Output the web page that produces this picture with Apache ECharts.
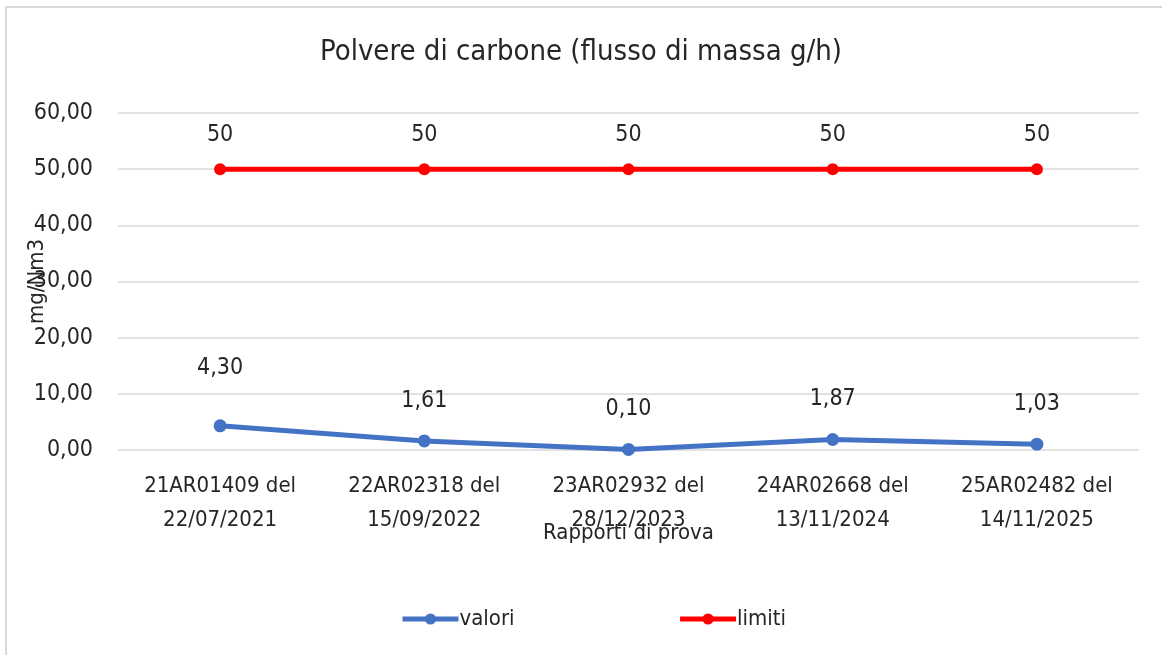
<!DOCTYPE html>
<html>
<head>
<meta charset="utf-8">
<script src="https://cdn.jsdelivr.net/npm/echarts@6/dist/echarts.min.js"></script>
<style>
  html, body { margin: 0; padding: 0; background: #fff; }
  #chart { width: 1162px; height: 655px; }
</style>
</head>
<body>
<div id="chart"></div>
<script>
var categories = [
  '21AR01409 del\n22/07/2021',
  '22AR02318 del\n15/09/2022',
  '23AR02932 del\n28/12/2023',
  '24AR02668 del\n13/11/2024',
  '25AR02482 del\n14/11/2025'
];
var valori = [4.30, 1.61, 0.10, 1.87, 1.03];
var limiti = [50, 50, 50, 50, 50];

var narrow = "'Liberation Sans Narrow', 'DejaVu Sans Condensed', sans-serif";
var txt = '#262626';

function fmt(v) {
  return v.toFixed(2).replace('.', ',');
}

var chart = echarts.init(document.getElementById('chart'));
chart.setOption({
  backgroundColor: '#fff',
  animation: false,
  graphic: [{
    type: 'rect',
    shape: { x: 6, y: 7, width: 1300, height: 800 },
    style: { fill: 'none', stroke: '#d9d9d9', lineWidth: 2 }
  }],
  title: {
    text: 'Polvere di carbone (flusso di massa g/h)',
    left: 'center',
    top: 33,
    textStyle: { fontFamily: narrow, fontSize: 29, fontWeight: 'normal', color: txt }
  },
  grid: { left: 118, right: 23, top: 113, bottom: 205, containLabel: false, outerBoundsMode: 'none' },
  legend: {
    bottom: 20,
    left: 395,
    itemGap: 163,
    itemWidth: 56,
    itemHeight: 14,
    lineStyle: { width: 5 },
    textStyle: { fontFamily: narrow, fontSize: 22, color: txt, padding: [0, 0, 0, -4] },
    data: ['valori', 'limiti']
  },
  xAxis: {
    type: 'category',
    data: categories,
    name: 'Rapporti di prova',
    nameLocation: 'middle',
    nameGap: 72,
    nameMoveOverlap: false,
    nameTextStyle: { fontFamily: narrow, fontSize: 22, color: txt },
    axisLine: { show: false },
    axisTick: { show: false },
    axisLabel: {
      margin: 19,
      fontFamily: narrow, fontSize: 22, color: txt, lineHeight: 34
    }
  },
  yAxis: {
    type: 'value',
    min: 0,
    max: 60,
    interval: 10,
    name: 'mg/Nm3',
    nameLocation: 'middle',
    nameGap: 70,
    nameMoveOverlap: false,
    nameTextStyle: { fontFamily: narrow, fontSize: 22, color: txt },
    axisLine: { show: false },
    axisTick: { show: false },
    splitLine: { lineStyle: { color: '#d9d9d9', width: 1.5 } },
    axisLabel: {
      margin: 25,
      fontFamily: narrow, fontSize: 23, color: txt,
      formatter: function (v) { return fmt(v); }
    }
  },
  series: [{
    name: 'valori',
    type: 'line',
    data: valori.map(function (v, i) {
      return { value: v, label: { distance: i === 0 ? 40 : 22 } };
    }),
    symbol: 'circle',
    symbolSize: 13,
    lineStyle: { color: '#4472c4', width: 5 },
    itemStyle: { color: '#4472c4' },
    label: {
      show: true, position: 'top',
      fontFamily: narrow, fontSize: 23, color: txt,
      formatter: function (p) { return fmt(p.value); }
    }
  }, {
    name: 'limiti',
    type: 'line',
    data: limiti,
    symbol: 'circle',
    symbolSize: 12,
    lineStyle: { color: '#ff0000', width: 5 },
    itemStyle: { color: '#ff0000' },
    label: {
      show: true, position: 'top', distance: 17,
      fontFamily: narrow, fontSize: 23, color: txt
    }
  }]
});
</script>
</body>
</html>
